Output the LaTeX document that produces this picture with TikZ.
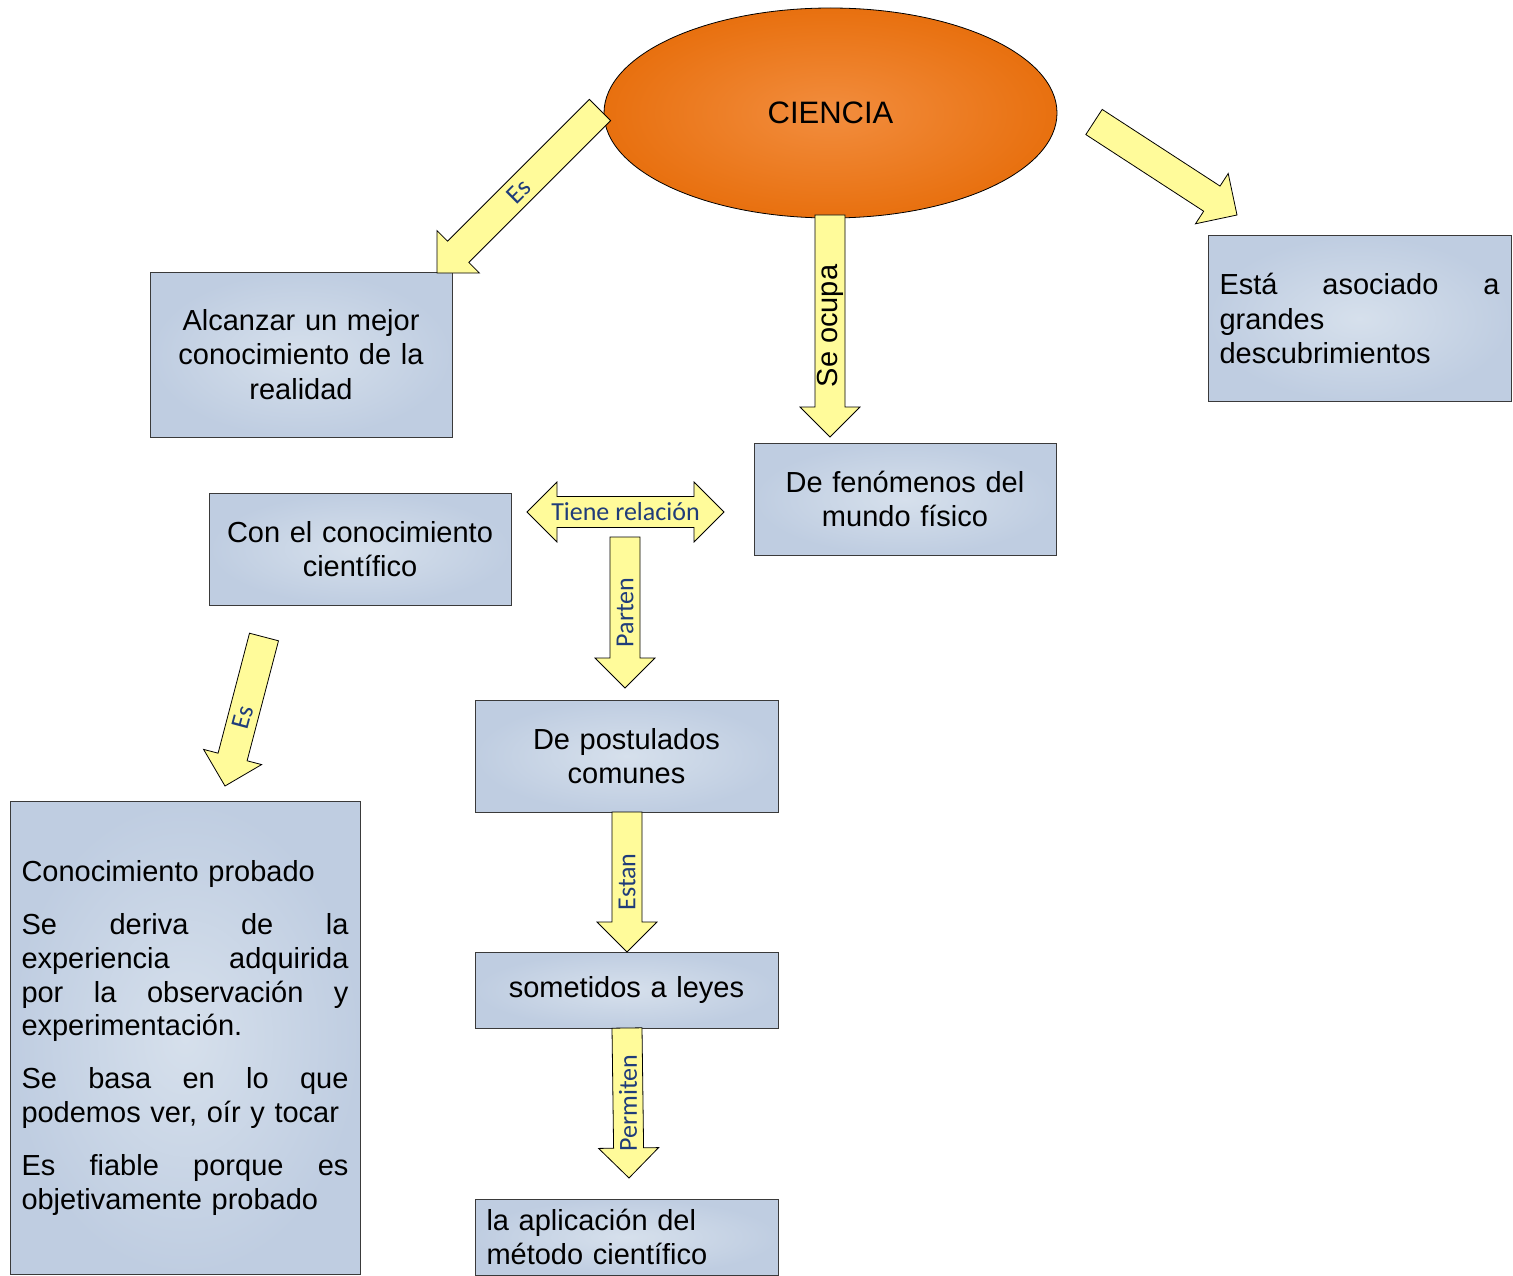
\documentclass[tikz,border=0pt]{standalone}
\usepackage{fontspec}
\setmainfont{Liberation Sans}
\newfontfamily\lblfont{Carlito}
\usetikzlibrary{calc,shapes.geometric}
\definecolor{boxin}{HTML}{D6E0EC}
\definecolor{boxout}{HTML}{BFCDE1}
\definecolor{oin}{HTML}{F28D3E}
\definecolor{oout}{HTML}{E8700F}
\definecolor{arrfill}{HTML}{FFFB9A}
\definecolor{navy}{HTML}{1F3C7A}
\definecolor{edgecol}{HTML}{3A3A3A}
\tikzset{
  box/.style={draw=edgecol, line width=1pt, inner color=boxin, outer color=boxout,
    inner sep=0pt, font=\fontsize{29}{34.5}\selectfont},
  arrowbody/.style={draw=black, line width=0.8pt, fill=arrfill, line join=miter},
  lbl/.style={text=navy, font=\lblfont\fontsize{26}{28}\selectfont, inner sep=0pt},
  blacklbl/.style={text=black, font=\fontsize{29}{32}\selectfont, inner sep=0pt}
}
% #1 from, #2 to (tip), #3 label options, #4 label
\newcommand\blkarrow[4]{%
  \coordinate (ba-h) at ($(#2)!30pt!(#1)$);
  \draw[arrowbody] ($(#1)!15pt!90:(#2)$) -- ($(ba-h)!15pt!90:(#2)$)
    -- ($(ba-h)!30pt!90:(#2)$) -- (#2) -- ($(ba-h)!30pt!-90:(#2)$)
    -- ($(ba-h)!15pt!-90:(#2)$) -- ($(#1)!15pt!-90:(#2)$) -- cycle;
  \path (#1) -- (#2) node[pos=0.5, #3] {#4};
}
\begin{document}
\begin{tikzpicture}[x=1pt, y=-1pt]
\useasboundingbox (0,0) rectangle (1513,1276);
\fill[white] (0,0) rectangle (1513,1276);

% main ellipse
\node[ellipse, draw=black, line width=0.8pt, inner color=oin, outer color=oout,
  minimum width=453, minimum height=210, inner sep=0pt,
  font=\fontsize{31}{36}\selectfont] (ciencia) at (830.5,113) {CIENCIA};

% boxes
\node[box, minimum width=302, minimum height=165, text width=290, align=center]
  (alcanzar) at (301,354.5) {Alcanzar un mejor\\conocimiento de la\\realidad};
\node[box, minimum width=303, minimum height=165, text width=280, align=left]
  (asociado) at (1359.5,318.5) {Está\hfill asociado\hfill a\\grandes\\descubrimientos};
\node[box, minimum width=302, minimum height=112, text width=290, align=center]
  (fenomenos) at (905,499) {De fenómenos del\\mundo físico};
\node[box, minimum width=302, minimum height=112, text width=290, align=center]
  (conoc) at (360,549) {Con el conocimiento\\científico};
\node[box, minimum width=303, minimum height=112, text width=290, align=center]
  (postul) at (626.5,756) {De postulados\\comunes};
\node[box, minimum width=303, minimum height=76, text width=290, align=center]
  (leyes) at (626.5,990) {sometidos a leyes};
\node[box, minimum width=303, minimum height=76, text width=280, align=left]
  (metodo) at (626.5,1237) {la aplicación del\\método científico};
\node[box, minimum width=350, minimum height=473, text width=327, align=left,
  font=\fontsize{29}{33.7}\selectfont]
  (probado) at (185,1038) {Conocimiento probado\\[19.5pt]
  Se\hfill deriva\hfill de\hfill la\\
  experiencia\hfill adquirida\\
  por\hfill la\hfill observación\hfill y\\
  experimentación.\\[19.5pt]
  Se\hfill basa\hfill en\hfill lo\hfill que\\
  podemos ver, oír y tocar\\[19.5pt]
  Es\hfill fiable\hfill porque\hfill es\\
  objetivamente probado};

% connector end points
\coordinate (es1-s) at (600,110);
\coordinate (es1-e) at (437,273);
\coordinate (der-s) at (1094,122);
\coordinate (der-e) at (1237,215);
\coordinate (oc-s) at (830,215);
\coordinate (oc-e) at (830,437);
\coordinate (es2-s) at (264,637);
\coordinate (es2-e) at (225,786);
\coordinate (pa-s) at (625,537);
\coordinate (pa-e) at (625,688);
\coordinate (est-s) at (627,812);
\coordinate (est-e) at (627,952);
\coordinate (per-s) at (627,1028);
\coordinate (per-e) at (629,1178);
\coordinate (tr-l) at (527,512);
\coordinate (tr-r) at (724,512);

% block arrows
\blkarrow{es1-s}{es1-e}{lbl, rotate=45}{Es}
\blkarrow{der-s}{der-e}{inner sep=0pt}{}
\blkarrow{oc-s}{oc-e}{blacklbl, rotate=90}{Se ocupa}
\blkarrow{es2-s}{es2-e}{lbl, rotate=75, pos=0.54}{Es}
\blkarrow{pa-s}{pa-e}{lbl, rotate=90}{Parten}
\blkarrow{est-s}{est-e}{lbl, rotate=90}{Estan}
\blkarrow{per-s}{per-e}{lbl, rotate=90}{Permiten}

% double arrow
\coordinate (da-a) at ($(tr-l)!30pt!(tr-r)$);
\coordinate (da-b) at ($(tr-r)!30pt!(tr-l)$);
\draw[arrowbody] (tr-l) -- ($(da-a)!30pt!90:(tr-r)$) -- ($(da-a)!15.5pt!90:(tr-r)$)
  -- ($(da-b)!15.5pt!-90:(tr-l)$) -- ($(da-b)!30pt!-90:(tr-l)$) -- (tr-r)
  -- ($(da-b)!30pt!90:(tr-l)$) -- ($(da-b)!15.5pt!90:(tr-l)$)
  -- ($(da-a)!15.5pt!-90:(tr-r)$) -- ($(da-a)!30pt!-90:(tr-r)$) -- cycle;
\path (tr-l) -- (tr-r) node[pos=0.5, lbl] (trlbl) {Tiene relación};
\end{tikzpicture}
\end{document}
